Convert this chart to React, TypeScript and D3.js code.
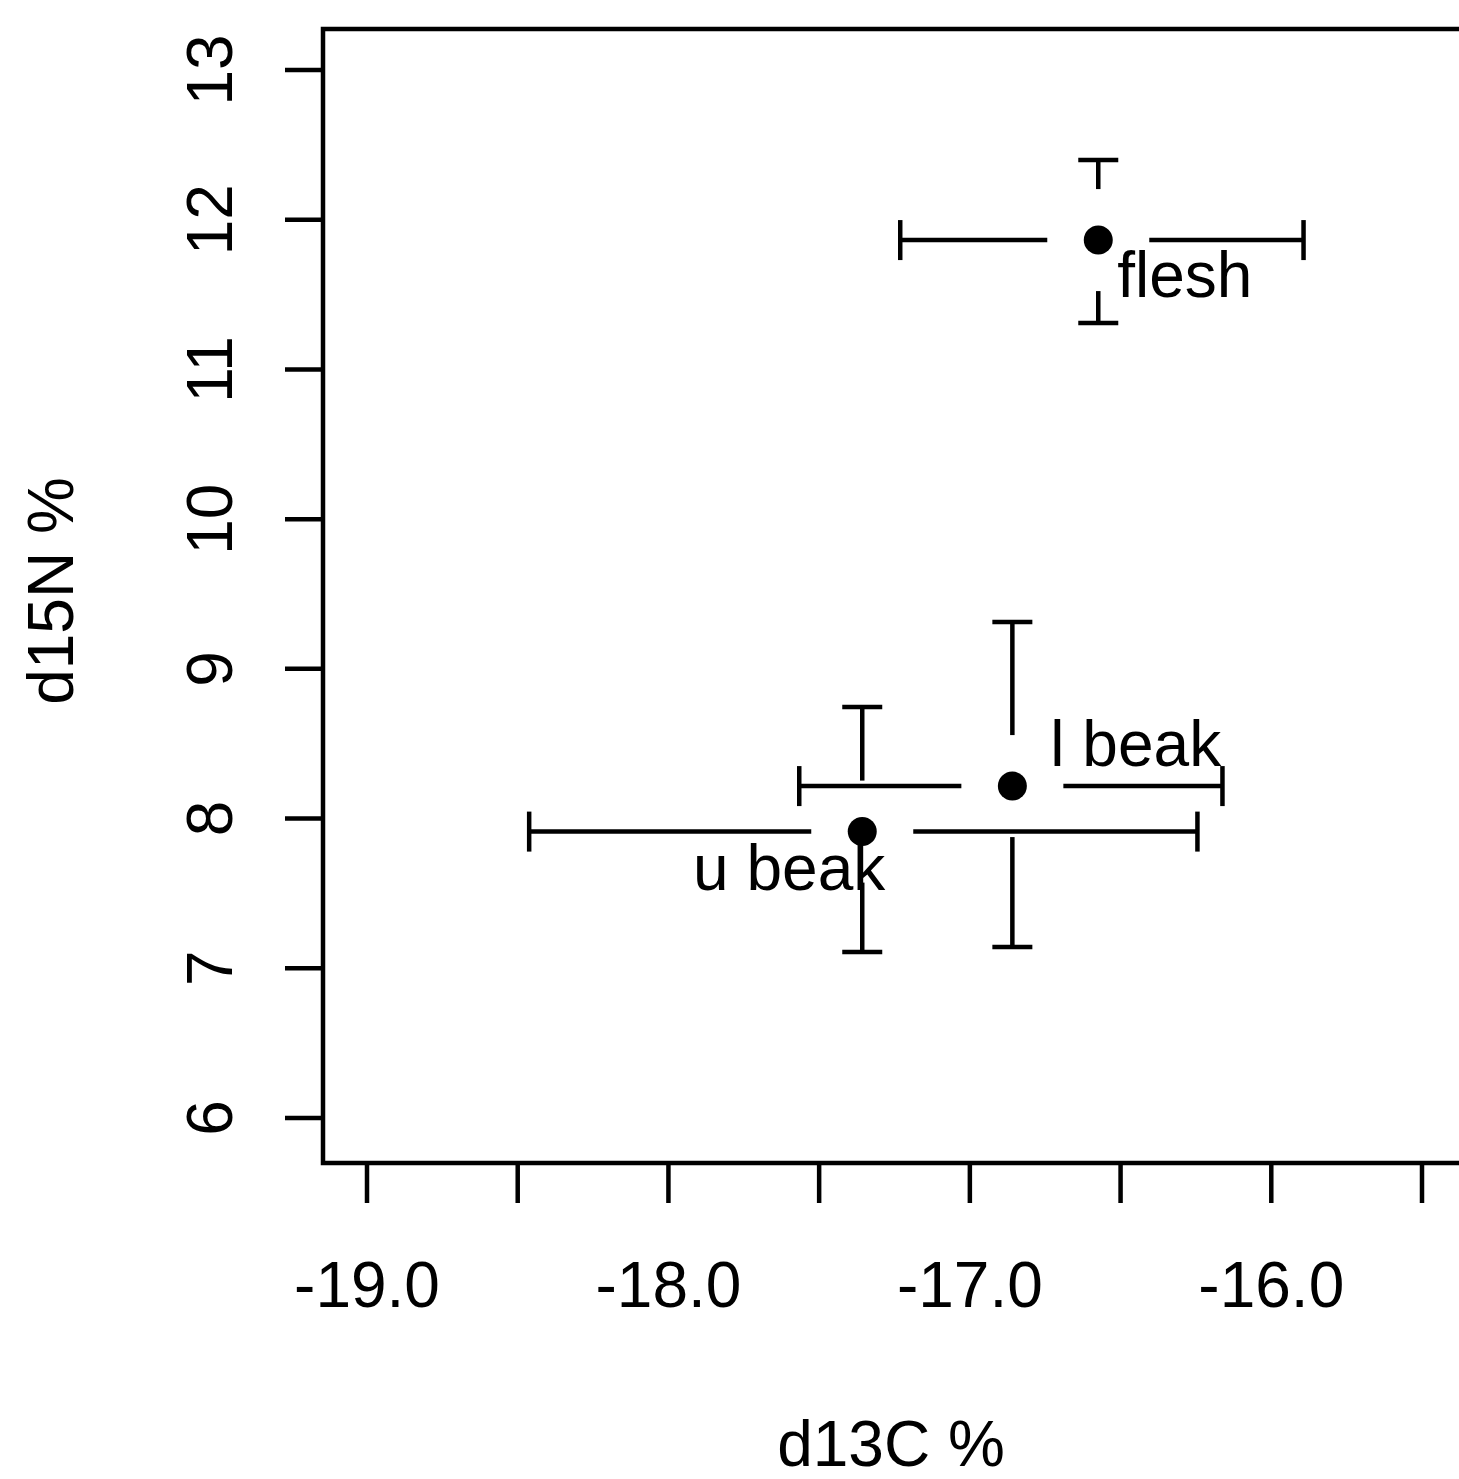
import React, { useEffect } from "react";
import * as d3 from "d3";

// ---- data ----
const groups = ["flesh", "l beak", "u beak"];
const meanC = [-16.574, -16.859, -17.357];
const meanN = [11.864, 8.217, 7.913];
const cLow = [-17.231, -17.566, -18.462];
const cHigh = [-15.893, -16.162, -16.245];
const nLow = [11.31, 7.142, 7.108];
const nHigh = [12.399, 9.313, 8.745];

const xTicks = [-19, -18.5, -18, -17.5, -17, -16.5, -16, -15.5];
const xTickLabels = ["-19.0", "", "-18.0", "", "-17.0", "", "-16.0", ""];
const yTicks = [6, 7, 8, 9, 10, 11, 12, 13];
const yTickLabels = ["6", "7", "8", "9", "10", "11", "12", "13"];
const xTitle = "d13C %";
const yTitle = "d15N %";

// label placement relative to each point (pixels)
const labelPlacement = [
  { dx: 19, dy: 57, anchor: "start" },
  { dx: 38, dy: -20, anchor: "start" },
  { dx: 23, dy: 58, anchor: "end" },
];

export default function App() {
  useEffect(() => {
    document.body.style.margin = "0";
    document.body.style.overflow = "hidden";
  }, []);

  const W = 1459;
  const H = 1479;
  const box = { left: 323, top: 29, right: 1463, bottom: 1163 };
  const x = d3.scaleLinear().domain([-19, -15.5]).range([367, 1422]);
  const y = d3.scaleLinear().domain([6, 13]).range([1118, 70]);

  const font = "'Liberation Sans', Arial, sans-serif";
  const fs = 64;
  const lw = 4.5;
  const gap = 51;
  const cap = 20;
  const r = 14.5;
  const tick = 38;

  const bars: JSX.Element[] = [];
  groups.forEach((g, i) => {
    const cx = x(meanC[i]);
    const cy = y(meanN[i]);
    const xl = x(cLow[i]);
    const xh = x(cHigh[i]);
    const yl = y(nLow[i]);
    const yh = y(nHigh[i]);
    bars.push(
      <g key={g} stroke="#000" strokeWidth={lw} fill="none">
        <line x1={xl} x2={cx - gap} y1={cy} y2={cy} />
        <line x1={cx + gap} x2={xh} y1={cy} y2={cy} />
        <line x1={xl} x2={xl} y1={cy - cap} y2={cy + cap} />
        <line x1={xh} x2={xh} y1={cy - cap} y2={cy + cap} />
        <line x1={cx} x2={cx} y1={yh} y2={cy - gap} />
        <line x1={cx} x2={cx} y1={cy + gap} y2={yl} />
        <line x1={cx - cap} x2={cx + cap} y1={yh} y2={yh} />
        <line x1={cx - cap} x2={cx + cap} y1={yl} y2={yl} />
      </g>
    );
  });

  return (
    <svg
      width={W}
      height={H}
      style={{ position: "absolute", left: 0, top: 0, background: "#fff" }}
      fontFamily={font}
    >
      <rect x={0} y={0} width={W} height={H} fill="#fff" />
      {/* plot box */}
      <rect
        x={box.left}
        y={box.top}
        width={box.right - box.left}
        height={box.bottom - box.top}
        fill="none"
        stroke="#000"
        strokeWidth={lw}
      />
      {/* x axis ticks */}
      {xTicks.map((t, i) => (
        <g key={"xt" + i}>
          <line
            x1={x(t)}
            x2={x(t)}
            y1={box.bottom}
            y2={box.bottom + tick + 2}
            stroke="#000"
            strokeWidth={lw}
          />
          {xTickLabels[i] && (
            <text x={x(t)} y={1307} fontSize={fs} textAnchor="middle" fill="#000">
              {xTickLabels[i]}
            </text>
          )}
        </g>
      ))}
      {/* y axis ticks */}
      {yTicks.map((t, i) => (
        <g key={"yt" + i}>
          <line
            x1={box.left - tick}
            x2={box.left}
            y1={y(t)}
            y2={y(t)}
            stroke="#000"
            strokeWidth={lw}
          />
          <text
            transform={`translate(232,${y(t)}) rotate(-90)`}
            fontSize={fs}
            textAnchor="middle"
            fill="#000"
          >
            {yTickLabels[i]}
          </text>
        </g>
      ))}
      {/* axis titles */}
      <text x={891} y={1466} fontSize={fs} textAnchor="middle" fill="#000">
        {xTitle}
      </text>
      <text
        transform="translate(73,591) rotate(-90)"
        fontSize={fs}
        textAnchor="middle"
        fill="#000"
      >
        {yTitle}
      </text>
      {/* error bars */}
      {bars}
      {/* points */}
      {groups.map((g, i) => (
        <circle key={"p" + g} cx={x(meanC[i])} cy={y(meanN[i])} r={r} fill="#000" />
      ))}
      {/* labels */}
      {groups.map((g, i) => (
        <text
          key={"l" + g}
          x={x(meanC[i]) + labelPlacement[i].dx}
          y={y(meanN[i]) + labelPlacement[i].dy}
          fontSize={fs}
          textAnchor={labelPlacement[i].anchor as any}
          fill="#000"
        >
          {g}
        </text>
      ))}
    </svg>
  );
}
